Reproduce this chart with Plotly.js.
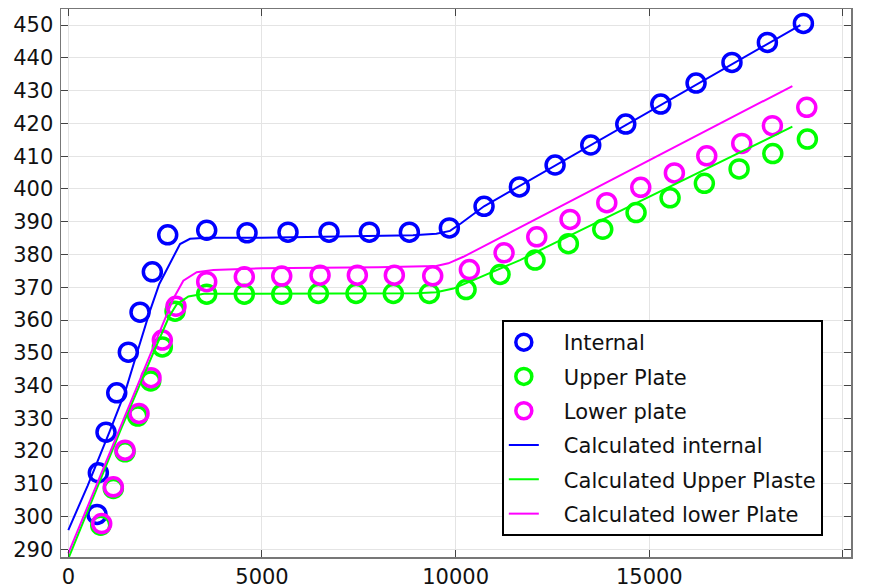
<!DOCTYPE html>
<html>
<head>
<meta charset="utf-8">
<script src="https://cdn.plot.ly/plotly-3.0.1.min.js"></script>
<style>html,body{margin:0;padding:0;background:#fff;}#chart{width:869px;height:584px;}</style>
</head>
<body>
<div id="chart"></div>
<script>
// Measured data
var internalX = [741, 775, 973, 1250, 1549, 1851, 2169, 2566, 3573, 4614, 5672, 6731, 7772, 8805, 9837, 10733, 11645, 12567, 13488, 14392, 15296, 16207, 17134, 18048, 18978];
var internalY = [300.7, 313.4, 325.8, 337.8, 350.2, 362.4, 374.7, 386.0, 387.4, 386.6, 386.8, 386.8, 386.8, 386.8, 388.1, 394.7, 400.6, 407.3, 413.4, 419.8, 425.9, 432.3, 438.6, 444.7, 450.5];

var upperX = [837, 1162, 1464, 1792, 2127, 2427, 2755, 3573, 4544, 5510, 6455, 7428, 8391, 9321, 10269, 11147, 12050, 12910, 13798, 14658, 15536, 16421, 17318, 18188, 19081];
var upperY = [297.4, 308.6, 319.8, 330.7, 341.4, 351.8, 362.7, 367.9, 367.9, 367.9, 368.1, 368.1, 368.1, 368.1, 369.3, 373.9, 378.3, 383.3, 387.7, 392.8, 397.3, 401.7, 406.1, 410.8, 415.2];

var lowerX = [862, 1162, 1464, 1825, 2135, 2427, 2780, 3573, 4544, 5510, 6499, 7462, 8417, 9408, 10354, 11250, 12094, 12954, 13902, 14779, 15647, 16483, 17387, 18177, 19065];
var lowerY = [297.9, 309.1, 320.3, 331.5, 342.4, 353.9, 364.2, 371.7, 373.2, 373.4, 373.7, 373.7, 373.7, 373.5, 375.4, 380.5, 385.4, 390.7, 395.8, 400.5, 404.9, 410.1, 413.9, 419.3, 424.9];

var calcInternalX = [0, 500, 1063, 1467, 1783, 2099, 2349, 2626, 2884, 3142, 3573, 5000, 7000, 8900, 9500, 9855, 10150, 10733, 18900];
var calcInternalY = [295.9, 309.5, 325.9, 338.1, 350.3, 362.5, 371.0, 377.5, 383.2, 384.8, 385.1, 385.1, 385.4, 385.9, 386.3, 387.2, 389.6, 394.7, 450.0];

var calcUpperX = [0, 1335, 2195, 2600, 2800, 3100, 3500, 6000, 9000, 9500, 9941, 10457, 11663, 12695, 18693];
var calcUpperY = [287.2, 326.0, 350.0, 361.0, 364.8, 367.2, 368.0, 368.1, 368.2, 368.5, 369.6, 372.2, 378.3, 384.3, 419.0];

var calcLowerX = [0, 1420, 2711, 2969, 3315, 3744, 5000, 8000, 9500, 9811, 10199, 12695, 18693];
var calcLowerY = [288.8, 329.5, 366.5, 372.0, 374.6, 375.3, 375.8, 376.1, 376.5, 377.3, 379.3, 394.6, 431.4];

var names = ['Internal', 'Upper Plate', 'Lower plate', 'Calculated internal', 'Calculated Upper Plaste', 'Calculated lower Plate'];
var colors = ['#0000ff', '#00ff00', '#ff00ff'];
var pad = '\u00a0\u00a0\u00a0';

function markerTrace(x, y, name, color, g) {
  return {x: x, y: y, name: pad + name, type: 'scatter', mode: 'markers', legendgroup: g,
    marker: {symbol: 'circle-open', size: 18, color: color, line: {width: 3.5, color: color}},
    cliponaxis: false, hoverinfo: 'skip'};
}
function lineTrace(x, y, name, color, g) {
  return {x: x, y: y, name: pad + name, type: 'scatter', mode: 'lines', legendgroup: g,
    line: {color: color, width: 2}, hoverinfo: 'skip'};
}

var data = [
  markerTrace(internalX, internalY, names[0], colors[0], 'g1'),
  markerTrace(upperX, upperY, names[1], colors[1], 'g2'),
  markerTrace(lowerX, lowerY, names[2], colors[2], 'g3'),
  lineTrace(calcInternalX, calcInternalY, names[3], colors[0], 'g4'),
  lineTrace(calcUpperX, calcUpperY, names[4], colors[1], 'g5'),
  lineTrace(calcLowerX, calcLowerY, names[5], colors[2], 'g6')
];

var axisCommon = {
  showgrid: true, gridcolor: '#e4e4e4', gridwidth: 1,
  showline: true, linecolor: '#777', linewidth: 1.5, mirror: 'ticks',
  ticks: 'inside', ticklen: 7, tickcolor: '#444', tickwidth: 1,
  zeroline: false,
  tickfont: {family: 'DejaVu Sans', size: 21, color: '#111'}
};

var layout = {
  width: 869, height: 584,
  margin: {l: 61, r: 18, t: 9, b: 27},
  paper_bgcolor: '#fff', plot_bgcolor: '#fff',
  showlegend: true,
  font: {family: 'DejaVu Sans', size: 21, color: '#111'},
  xaxis: Object.assign({}, axisCommon, {range: [-189, 20207], tickvals: [0, 5000, 10000, 15000, 20000], ticktext: ['0', '5000', '10000', '15000', '20000'], ticklabelstandoff: 0}),
  yaxis: Object.assign({}, axisCommon, {range: [287.7, 454.9], dtick: 10, tick0: 290, ticklabelstandoff: 2}),
  legend: {
    x: 0.558, y: 0.4325, xanchor: 'left', yanchor: 'top',
    bgcolor: '#fff', bordercolor: '#000', borderwidth: 2,
    font: {family: 'DejaVu Sans', size: 21, color: '#111'},
    traceorder: 'grouped', tracegroupgap: 4, itemsizing: 'trace'
  }
};

Plotly.newPlot('chart', data, layout, {staticPlot: true, displayModeBar: false});
</script>
</body>
</html>
